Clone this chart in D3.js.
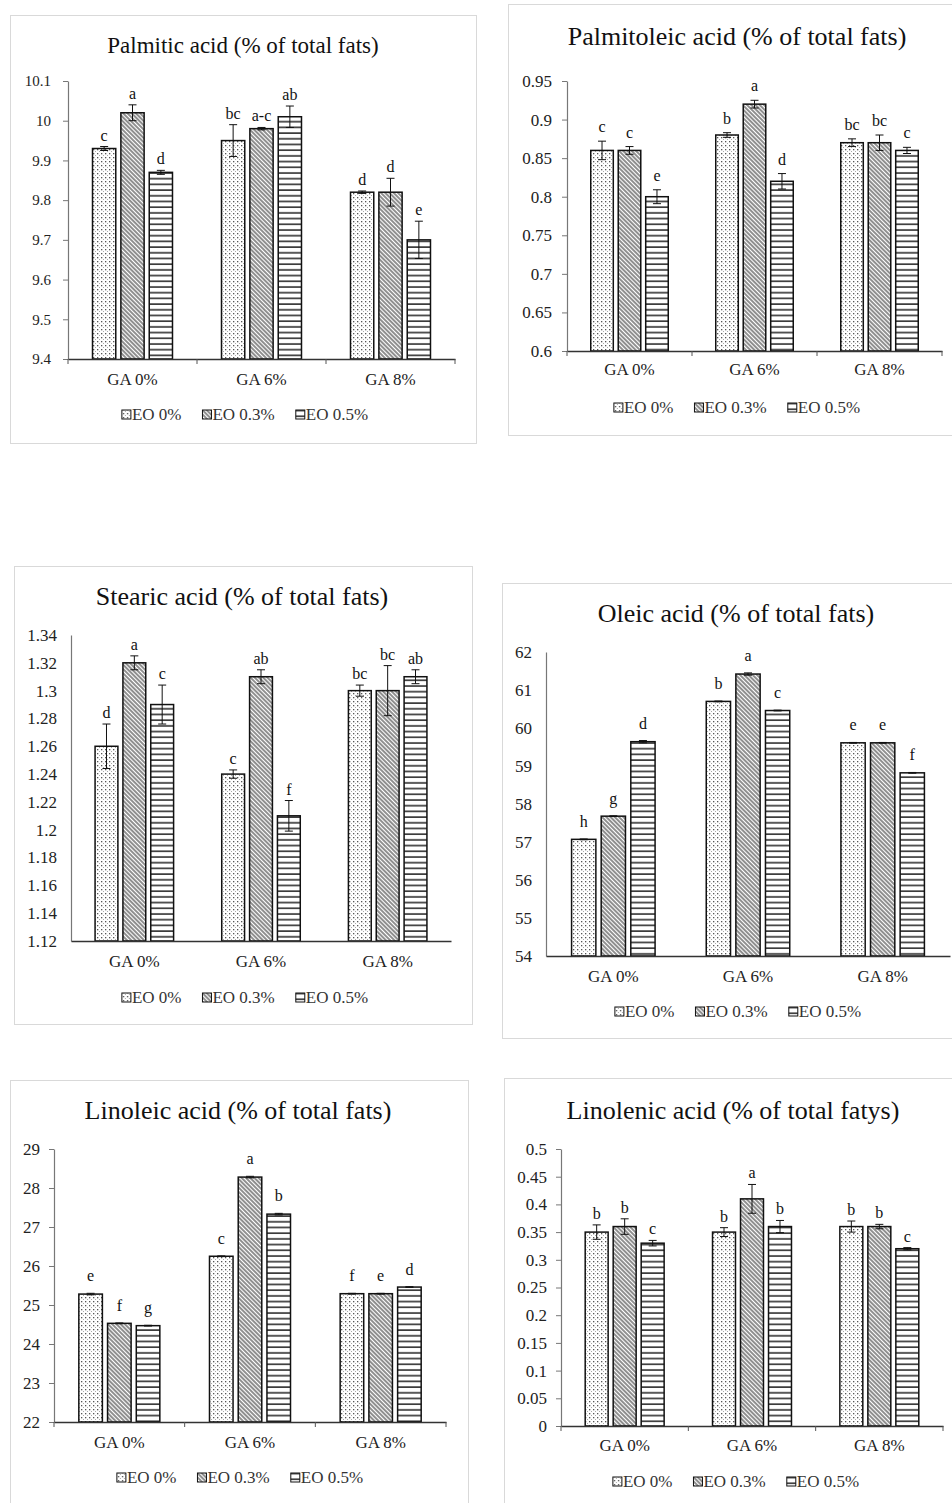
<!DOCTYPE html>
<html>
<head>
<meta charset="utf-8">
<script src="https://cdn.jsdelivr.net/npm/d3@7"></script>
<style>
  html, body { margin: 0; padding: 0; background: #fff; }
  svg { display: block; font-family: "Liberation Serif", "Times New Roman", serif; }
</style>
</head>
<body>
<svg id="chart" width="952" height="1503"></svg>
<script>
// ---------------- DATA ----------------
const categories = ["GA 0%", "GA 6%", "GA 8%"];
const series = ["EO 0%", "EO 0.3%", "EO 0.5%"];

// values[series][category]
const palmiticTitle = "Palmitic acid (% of total fats)";
const palmiticValues = [[9.93, 9.95, 9.82], [10.02, 9.98, 9.82], [9.87, 10.01, 9.70]];
const palmiticErrors = [[0.005, 0.04, 0.003], [0.02, 0.003, 0.035], [0.005, 0.027, 0.047]];
const palmiticLetters = [["c", "bc", "d"], ["a", "a-c", "d"], ["d", "ab", "e"]];
const palmiticTicks = [9.4, 9.5, 9.6, 9.7, 9.8, 9.9, 10, 10.1];
const palmiticTickLabels = ["9.4", "9.5", "9.6", "9.7", "9.8", "9.9", "10", "10.1"];

const palmitoleicTitle = "Palmitoleic acid (% of total fats)";
const palmitoleicValues = [[0.86, 0.88, 0.87], [0.86, 0.92, 0.87], [0.80, 0.82, 0.86]];
const palmitoleicErrors = [[0.012, 0.003, 0.005], [0.005, 0.005, 0.01], [0.009, 0.01, 0.004]];
const palmitoleicLetters = [["c", "b", "bc"], ["c", "a", "bc"], ["e", "d", "c"]];
const palmitoleicTicks = [0.6, 0.65, 0.7, 0.75, 0.8, 0.85, 0.9, 0.95];
const palmitoleicTickLabels = ["0.6", "0.65", "0.7", "0.75", "0.8", "0.85", "0.9", "0.95"];

const stearicTitle = "Stearic acid (% of total fats)";
const stearicValues = [[1.26, 1.24, 1.30], [1.32, 1.31, 1.30], [1.29, 1.21, 1.31]];
const stearicErrors = [[0.016, 0.003, 0.004], [0.005, 0.005, 0.018], [0.014, 0.011, 0.005]];
const stearicLetters = [["d", "c", "bc"], ["a", "ab", "bc"], ["c", "f", "ab"]];
const stearicTicks = [1.12, 1.14, 1.16, 1.18, 1.2, 1.22, 1.24, 1.26, 1.28, 1.3, 1.32, 1.34];
const stearicTickLabels = ["1.12", "1.14", "1.16", "1.18", "1.2", "1.22", "1.24", "1.26", "1.28", "1.3", "1.32", "1.34"];

const oleicTitle = "Oleic acid (% of total fats)";
const oleicValues = [[57.07, 60.70, 59.61], [57.68, 61.42, 59.61], [59.64, 60.46, 58.82]];
const oleicErrors = [[0.01, 0.01, 0.01], [0.01, 0.03, 0.01], [0.03, 0.01, 0.01]];
const oleicLetters = [["h", "b", "e"], ["g", "a", "e"], ["d", "c", "f"]];
const oleicTicks = [54, 55, 56, 57, 58, 59, 60, 61, 62];
const oleicTickLabels = ["54", "55", "56", "57", "58", "59", "60", "61", "62"];

const linoleicTitle = "Linoleic acid (% of total fats)";
const linoleicValues = [[25.28, 26.25, 25.29], [24.53, 28.28, 25.29], [24.47, 27.33, 25.46]];
const linoleicErrors = [[0.02, 0.01, 0.01], [0.01, 0.02, 0.01], [0.01, 0.02, 0.01]];
const linoleicLetters = [["e", "c", "f"], ["f", "a", "e"], ["g", "b", "d"]];
const linoleicTicks = [22, 23, 24, 25, 26, 27, 28, 29];
const linoleicTickLabels = ["22", "23", "24", "25", "26", "27", "28", "29"];

const linolenicTitle = "Linolenic acid (% of total fatys)";
const linolenicValues = [[0.35, 0.35, 0.36], [0.36, 0.41, 0.36], [0.33, 0.36, 0.32]];
const linolenicErrors = [[0.013, 0.008, 0.01], [0.014, 0.026, 0.004], [0.005, 0.011, 0.002]];
const linolenicLetters = [["b", "b", "b"], ["b", "a", "b"], ["c", "b", "c"]];
const linolenicTicks = [0, 0.05, 0.1, 0.15, 0.2, 0.25, 0.3, 0.35, 0.4, 0.45, 0.5];
const linolenicTickLabels = ["0", "0.05", "0.1", "0.15", "0.2", "0.25", "0.3", "0.35", "0.4", "0.45", "0.5"];

// ---------------- LAYOUT ----------------
const charts = [
  { title: palmiticTitle, values: palmiticValues, errors: palmiticErrors, letters: palmiticLetters, ticks: palmiticTicks, tickLabels: palmiticTickLabels,
    frame: [10, 15, 476, 443], plot: { l: 68, r: 455, t: 81, b: 359 }, titleX: 243, titleY: 53, titleSize: 23,
    tickFont: 15, tickPad: 12, yTickMarks: true, xLabelY: 385, legendY: 420, legendCx: 245, labelGap: 6 },
  { title: palmitoleicTitle, values: palmitoleicValues, errors: palmitoleicErrors, letters: palmitoleicLetters, ticks: palmitoleicTicks, tickLabels: palmitoleicTickLabels,
    frame: [508, 4, 965, 435], plot: { l: 567, r: 942, t: 81, b: 351 }, titleX: 737, titleY: 45, titleSize: 26,
    tickFont: 17, tickPad: 10, yTickMarks: true, xLabelY: 375, legendY: 413, legendCx: 737, labelGap: 9 },
  { title: stearicTitle, values: stearicValues, errors: stearicErrors, letters: stearicLetters, ticks: stearicTicks, tickLabels: stearicTickLabels,
    frame: [14, 566, 472, 1024], plot: { l: 71, r: 451, t: 635, b: 941 }, titleX: 242, titleY: 605, titleSize: 26,
    tickFont: 17, tickPad: 9, yTickMarks: false, xLabelY: 967, legendY: 1003, legendCx: 245, labelGap: 6 },
  { title: oleicTitle, values: oleicValues, errors: oleicErrors, letters: oleicLetters, ticks: oleicTicks, tickLabels: oleicTickLabels,
    frame: [502, 583, 965, 1038], plot: { l: 546, r: 950, t: 652, b: 956 }, titleX: 736, titleY: 622, titleSize: 26,
    tickFont: 17, tickPad: 9, yTickMarks: false, xLabelY: 982, legendY: 1017, legendCx: 738, labelGap: 12 },
  { title: linoleicTitle, values: linoleicValues, errors: linoleicErrors, letters: linoleicLetters, ticks: linoleicTicks, tickLabels: linoleicTickLabels,
    frame: [10, 1080, 468, 1515], plot: { l: 54, r: 446, t: 1149, b: 1422 }, titleX: 238, titleY: 1119, titleSize: 26,
    tickFont: 17, tickPad: 9, yTickMarks: true, xLabelY: 1448, legendY: 1483, legendCx: 240, labelGap: 12 },
  { title: linolenicTitle, values: linolenicValues, errors: linolenicErrors, letters: linolenicLetters, ticks: linolenicTicks, tickLabels: linolenicTickLabels,
    frame: [504, 1078, 965, 1515], plot: { l: 561, r: 943, t: 1149, b: 1426 }, titleX: 733, titleY: 1119, titleSize: 26,
    tickFont: 17, tickPad: 9, yTickMarks: true, xLabelY: 1451, legendY: 1487, legendCx: 736, labelGap: 6 }
];

// ---------------- DRAW ----------------
const svg = d3.select("#chart");
const defs = svg.append("defs");

// EO 0%: dots
const pDots = defs.append("pattern").attr("id", "pat0").attr("patternUnits", "userSpaceOnUse")
  .attr("width", 4).attr("height", 4);
pDots.append("rect").attr("width", 4).attr("height", 4).attr("fill", "#fff");
pDots.append("rect").attr("x", 1).attr("y", 1).attr("width", 1.3).attr("height", 1.3).attr("fill", "#555");
pDots.append("rect").attr("x", 3).attr("y", 3).attr("width", 1).attr("height", 1).attr("fill", "#aaa");

// EO 0.3%: diagonal "\" lines
const pDiag = defs.append("pattern").attr("id", "pat1").attr("patternUnits", "userSpaceOnUse")
  .attr("width", 3).attr("height", 3).attr("patternTransform", "rotate(-45)");
pDiag.append("rect").attr("width", 3).attr("height", 3).attr("fill", "#fff");
pDiag.append("line").attr("x1", 1).attr("x2", 1).attr("y1", 0).attr("y2", 3)
  .attr("stroke", "#333").attr("stroke-width", 1.1);

// EO 0.5%: horizontal lines
const pHor = defs.append("pattern").attr("id", "pat2").attr("patternUnits", "userSpaceOnUse")
  .attr("width", 6).attr("height", 5.7);
pHor.append("rect").attr("width", 6).attr("height", 5.7).attr("fill", "#fff");
pHor.append("line").attr("x1", 0).attr("x2", 6).attr("y1", 2).attr("y2", 2)
  .attr("stroke", "#111").attr("stroke-width", 1.4);

const patterns = ["url(#pat0)", "url(#pat1)", "url(#pat2)"];

charts.forEach((c) => {
  const g = svg.append("g");
  const [fx0, fy0, fx1, fy1] = c.frame;
  g.append("rect").attr("x", fx0 + 0.5).attr("y", fy0 + 0.5)
    .attr("width", fx1 - fx0).attr("height", fy1 - fy0)
    .attr("fill", "none").attr("stroke", "#d9d9d9").attr("stroke-width", 1);

  g.append("text").attr("x", c.titleX).attr("y", c.titleY)
    .attr("text-anchor", "middle").attr("font-size", c.titleSize).attr("fill", "#111")
    .text(c.title);

  const y = d3.scaleLinear().domain(d3.extent(c.ticks)).range([c.plot.b, c.plot.t]);
  const x0 = d3.scaleBand().domain(categories).range([c.plot.l, c.plot.r]).padding(0);
  const bw = x0.bandwidth();
  const x1 = d3.scaleBand().domain(series).range([bw * 0.19, bw * 0.81]).paddingInner(0.18);

  // y axis
  const yAxis = d3.axisLeft(y).tickValues(c.ticks)
    .tickFormat((d, i) => c.tickLabels[i])
    .tickSizeInner(c.yTickMarks ? 5 : 0).tickSizeOuter(0).tickPadding(c.yTickMarks ? c.tickPad : c.tickPad + 5);
  const ya = g.append("g").attr("transform", `translate(${c.plot.l},0)`).call(yAxis);
  ya.select(".domain").attr("stroke", "#777").attr("stroke-width", 1.2);
  ya.selectAll(".tick line").attr("stroke", "#777");
  ya.selectAll(".tick text").attr("font-size", c.tickFont).attr("fill", "#222")
    .attr("font-family", "'Liberation Serif', 'Times New Roman', serif");

  // bars
  series.forEach((s, si) => {
    categories.forEach((cat, ci) => {
      const v = c.values[si][ci];
      const e = c.errors[si][ci];
      const bx = x0(cat) + x1(s);
      const w = x1.bandwidth();
      const yt = y(v);
      g.append("rect").attr("x", bx).attr("y", yt)
        .attr("width", w).attr("height", y.range()[0] - yt)
        .attr("fill", patterns[si]).attr("stroke", "#111").attr("stroke-width", 1.5);
      const cx = bx + w / 2;
      const eTop = y(v + e), eBot = y(v - e);
      g.append("line").attr("x1", cx).attr("x2", cx).attr("y1", eTop).attr("y2", eBot)
        .attr("stroke", "#111").attr("stroke-width", 1);
      [eTop, eBot].forEach(yy => {
        g.append("line").attr("x1", cx - 4).attr("x2", cx + 4).attr("y1", yy).attr("y2", yy)
          .attr("stroke", "#111").attr("stroke-width", 1);
      });
      g.append("text").attr("x", cx).attr("y", eTop - c.labelGap)
        .attr("text-anchor", "middle").attr("font-size", 16).attr("fill", "#111")
        .text(c.letters[si][ci]);
    });
  });

  // x axis
  const xAxis = d3.axisBottom(x0).tickSize(0).tickFormat("");
  const xa = g.append("g").attr("transform", `translate(0,${c.plot.b})`).call(xAxis);
  xa.select(".domain").attr("stroke", "#333").attr("stroke-width", 1.5);
  if (c.yTickMarks) {
    const bounds = categories.map(cat => x0(cat)).concat([c.plot.r]);
    bounds.forEach(bx => {
      xa.append("line").attr("x1", bx).attr("x2", bx).attr("y1", 0).attr("y2", 5)
        .attr("stroke", "#555").attr("stroke-width", 1);
    });
  }
  categories.forEach(cat => {
    g.append("text").attr("x", x0(cat) + bw / 2).attr("y", c.xLabelY)
      .attr("text-anchor", "middle").attr("font-size", 17).attr("fill", "#222").text(cat);
  });

  // legend
  const lg = g.append("g");
  const items = series.map((s, si) => {
    const it = lg.append("g");
    it.append("rect").attr("x", 0).attr("y", -10).attr("width", 9).attr("height", 9)
      .attr("fill", patterns[si]).attr("stroke", "#111").attr("stroke-width", 1);
    const t = it.append("text").attr("x", 10).attr("y", 0).attr("font-size", 17).attr("fill", "#333").text(s);
    return { it, w: 10 + t.node().getComputedTextLength() };
  });
  const gap = 21;
  const total = d3.sum(items, d => d.w) + gap * (items.length - 1);
  let cx = c.legendCx - total / 2;
  items.forEach(d => {
    d.it.attr("transform", `translate(${cx},${c.legendY})`);
    cx += d.w + gap;
  });
});
</script>
</body>
</html>
